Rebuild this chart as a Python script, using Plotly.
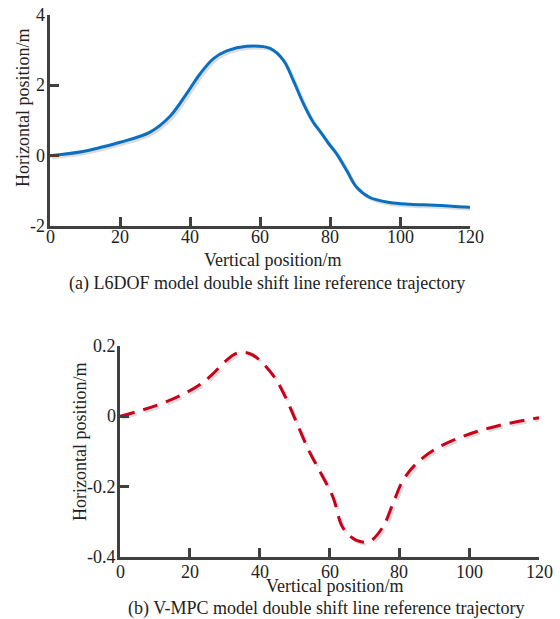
import plotly.graph_objects as go

# (a) L6DOF model trajectory
x_a = [0, 9.5, 14.3, 20, 28.6, 34.3, 39, 42.9, 46.7, 50.5, 56.2, 62.9, 66.7, 69.5,
       72.4, 75.2, 77.1, 79.5, 81.9, 84.8, 87.6, 91.4, 97.1, 102.9, 110, 120]
y_a = [0, 0.12, 0.23, 0.38, 0.67, 1.12, 1.76, 2.33, 2.76, 2.98, 3.11, 3.05, 2.71, 2.14,
       1.48, 0.95, 0.70, 0.36, 0.05, -0.43, -0.9, -1.19, -1.33, -1.38, -1.41, -1.47]

# (b) V-MPC model trajectory
x_b = [0, 10.5, 18.1, 23.3, 26.2, 30, 33.3, 35.7, 38.1, 41.4, 44.8, 47.6, 50.5, 54.3,
       57.1, 61, 63.8, 67.6, 71.4, 75.2, 78.1, 81, 84.8, 90.5, 99, 108.6, 120]
y_b = [0, 0.031, 0.063, 0.093, 0.117, 0.155, 0.179, 0.182, 0.174, 0.146, 0.103, 0.05,
       -0.016, -0.102, -0.154, -0.23, -0.316, -0.352, -0.356, -0.316, -0.25, -0.183,
       -0.135, -0.092, -0.054, -0.026, -0.004]

x_ticks = [0, 20, 40, 60, 80, 100, 120]
x_ticktext = ["0", "20", "40", "60", "80", "100", "120"]
y_ticks_a = [-2, 0, 2, 4]
y_ticktext_a = ["-2", "0", "2", "4"]
y_ticks_b = [-0.4, -0.2, 0, 0.2]
y_ticktext_b = ["-0.4", "-0.2", "0", "0.2"]

FONT = "Liberation Serif"
AXC = "#404040"
SHADOW = "#dcdcdc"
W, H = 560, 619

# pixel scale of each panel (px per data unit), used to offset the soft shadow
sx = 420 / 120
sy_a = 211 / 6
sy_b = 211 / 0.6

fig = go.Figure()
fig.add_trace(go.Scatter(x=[v + 2 / sx for v in x_a], y=[v - 2 / sy_a for v in y_a],
                         mode="lines", xaxis="x", yaxis="y", hoverinfo="skip",
                         line=dict(color=SHADOW, width=3, shape="spline", smoothing=1.0),
                         showlegend=False))
fig.add_trace(go.Scatter(x=x_a, y=y_a, mode="lines", xaxis="x", yaxis="y",
                         line=dict(color="#0a6fc0", width=3, shape="spline", smoothing=1.0),
                         showlegend=False))
fig.add_trace(go.Scatter(x=[v + 2 / sx for v in x_b], y=[v - 2 / sy_b for v in y_b],
                         mode="lines", xaxis="x2", yaxis="y2", hoverinfo="skip",
                         line=dict(color=SHADOW, width=3, shape="spline", smoothing=1.0,
                                   dash="15px,9px"),
                         showlegend=False))
fig.add_trace(go.Scatter(x=x_b, y=y_b, mode="lines", xaxis="x2", yaxis="y2",
                         line=dict(color="#c8001a", width=3, shape="spline", smoothing=1.0,
                                   dash="15px,9px"),
                         showlegend=False))


def px_x(p):
    return p / W


def px_y(p):
    return 1 - p / H


axis_common = dict(showline=True, linecolor=AXC, linewidth=3, ticks="inside", ticklen=9,
                   tickwidth=3, tickcolor=AXC, showgrid=False, zeroline=False,
                   showticklabels=False)

fig.update_layout(
    width=W, height=H, margin=dict(l=0, r=0, t=0, b=0),
    paper_bgcolor="white", plot_bgcolor="white",
    xaxis=dict(domain=[px_x(50), px_x(470)], range=[0, 120], tickvals=x_ticks,
               anchor="y", **axis_common),
    yaxis=dict(domain=[px_y(226), px_y(15)], range=[-2, 4], tickvals=y_ticks_a,
               anchor="x", **axis_common),
    xaxis2=dict(domain=[px_x(120), px_x(539)], range=[0, 120], tickvals=x_ticks,
                anchor="y2", **axis_common),
    yaxis2=dict(domain=[px_y(557), px_y(346)], range=[-0.4, 0.2], tickvals=y_ticks_b,
                anchor="x2", **axis_common),
)

tfont = dict(family=FONT, size=18, color="#222")

# tick labels placed close to the axes, as in the reference
for v, t in zip(x_ticks, x_ticktext):
    fig.add_annotation(xref="x", yref="paper", x=v, y=px_y(237), text=t, showarrow=False,
                       font=tfont, xanchor="center", yanchor="middle")
    fig.add_annotation(xref="x2", yref="paper", x=v, y=px_y(572), text=t, showarrow=False,
                       font=tfont, xanchor="center", yanchor="middle")
for v, t in zip(y_ticks_a, y_ticktext_a):
    fig.add_annotation(xref="paper", yref="y", x=px_x(47), y=v, text=t, showarrow=False,
                       font=tfont, xanchor="right", yanchor="middle")
for v, t in zip(y_ticks_b, y_ticktext_b):
    fig.add_annotation(xref="paper", yref="y2", x=px_x(118), y=v, text=t, showarrow=False,
                       font=tfont, xanchor="right", yanchor="middle")

ann = [
    dict(text="Vertical position/m", x=px_x(272), y=px_y(260)),
    dict(text="(a) L6DOF model double shift line reference trajectory", x=px_x(267), y=px_y(283)),
    dict(text="Vertical position/m", x=px_x(334), y=px_y(586)),
    dict(text="(b) V-MPC model double shift line reference trajectory", x=px_x(326), y=px_y(608)),
    dict(text="Horizontal position/m", x=px_x(23), y=px_y(108), textangle=-90),
    dict(text="Horizontal position/m", x=px_x(80), y=px_y(442), textangle=-90),
]
for a in ann:
    fig.add_annotation(xref="paper", yref="paper", showarrow=False, font=tfont,
                       xanchor="center", yanchor="middle", **a)

fig.write_html("out.html")
